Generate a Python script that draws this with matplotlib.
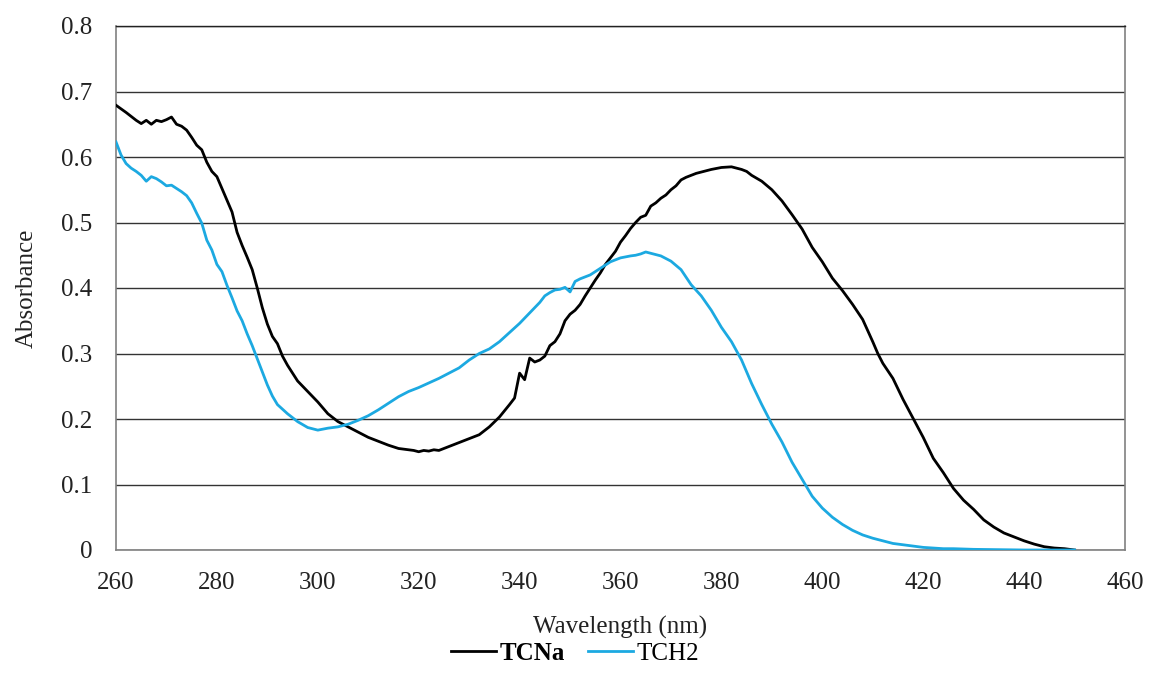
import matplotlib.pyplot as plt

plt.rcParams["font.family"] = ["Liberation Serif", "DejaVu Serif"]

# TCNa spectrum
tcna_wl = [
    260, 262, 264, 265, 266, 267, 268, 269, 270, 271, 272, 273, 274, 275, 276, 277,
    278, 279, 280, 281, 282, 283, 284, 285, 286, 287, 288, 289, 290, 291, 292, 293,
    294, 296, 298, 300, 302, 304, 306, 308, 310, 312, 314, 316, 318, 319, 320, 321,
    322, 323, 324, 326, 328, 330, 332, 334, 336, 338, 339, 340, 341, 342, 343, 344,
    345, 346, 347, 348, 349, 350, 351, 352, 353, 354, 355, 356, 357, 358, 359, 360,
    361, 362, 363, 364, 365, 366, 367, 368, 369, 370, 371, 372, 373, 374, 375, 376,
    378, 380, 382, 384, 385, 386, 388, 390, 392, 394, 395, 396, 398, 400, 402, 404,
    406, 408, 410, 411, 412, 414, 416, 418, 420, 422, 424, 426, 428, 430, 432, 434,
    436, 438, 440, 442, 444, 446, 448, 450,
]
tcna_abs = [
    0.679, 0.668, 0.656, 0.651, 0.656, 0.650, 0.656, 0.654, 0.657, 0.661, 0.650, 0.647, 0.641, 0.630, 0.618, 0.611,
    0.592, 0.578, 0.570, 0.552, 0.534, 0.516, 0.485, 0.465, 0.447, 0.428, 0.400, 0.370, 0.345, 0.326, 0.315, 0.296,
    0.282, 0.258, 0.242, 0.226, 0.208, 0.196, 0.188, 0.180, 0.172, 0.166, 0.160, 0.155, 0.153, 0.152, 0.150, 0.152,
    0.151, 0.153, 0.152, 0.158, 0.164, 0.170, 0.176, 0.188, 0.203, 0.222, 0.232, 0.270, 0.260, 0.293, 0.287, 0.290,
    0.296, 0.312, 0.318, 0.330, 0.350, 0.360, 0.366, 0.375, 0.388, 0.400, 0.412, 0.423, 0.436, 0.446, 0.456, 0.470,
    0.480, 0.491, 0.500, 0.508, 0.511, 0.525, 0.530, 0.537, 0.542, 0.550, 0.556, 0.565, 0.569, 0.572, 0.575, 0.577,
    0.581, 0.584, 0.585, 0.581, 0.578, 0.572, 0.563, 0.550, 0.533, 0.512, 0.501, 0.490, 0.462, 0.440, 0.415, 0.396,
    0.375, 0.352, 0.318, 0.300, 0.285, 0.262, 0.230, 0.201, 0.172, 0.140, 0.118, 0.094, 0.076, 0.062, 0.046, 0.035,
    0.026, 0.020, 0.014, 0.009, 0.005, 0.003, 0.002, 0.000,
]

# TCH2 spectrum
tch2_wl = [
    260, 261, 262, 263, 264, 265, 266, 267, 268, 269, 270, 271, 272, 273, 274, 275,
    276, 277, 278, 279, 280, 281, 282, 283, 284, 285, 286, 287, 288, 289, 290, 291,
    292, 294, 296, 298, 300, 302, 304, 306, 308, 310, 312, 314, 316, 318, 320, 322,
    324, 326, 328, 330, 332, 334, 336, 338, 340, 342, 344, 345, 346, 347, 348, 349,
    350, 351, 352, 354, 356, 358, 360, 362, 363, 364, 365, 366, 368, 370, 372, 374,
    376, 378, 380, 382, 384, 386, 388, 390, 392, 394, 396, 398, 400, 402, 404, 406,
    408, 410, 412, 414, 416, 418, 420, 422, 424, 426, 430, 440, 450,
]
tch2_abs = [
    0.623, 0.603, 0.590, 0.583, 0.578, 0.572, 0.563, 0.570, 0.567, 0.562, 0.556, 0.557, 0.552, 0.547, 0.541, 0.530,
    0.514, 0.499, 0.473, 0.458, 0.436, 0.425, 0.404, 0.385, 0.365, 0.350, 0.330, 0.312, 0.292, 0.272, 0.252, 0.235,
    0.222, 0.208, 0.196, 0.187, 0.183, 0.186, 0.188, 0.192, 0.198, 0.205, 0.214, 0.224, 0.234, 0.242, 0.248, 0.255,
    0.262, 0.270, 0.278, 0.290, 0.300, 0.307, 0.318, 0.332, 0.346, 0.362, 0.378, 0.388, 0.393, 0.397, 0.398, 0.401,
    0.394, 0.410, 0.414, 0.420, 0.430, 0.440, 0.446, 0.449, 0.450, 0.452, 0.455, 0.453, 0.449, 0.441, 0.428, 0.405,
    0.388, 0.366, 0.340, 0.318, 0.290, 0.254, 0.222, 0.192, 0.165, 0.134, 0.108, 0.082, 0.064, 0.050, 0.039, 0.030,
    0.023, 0.018, 0.014, 0.010, 0.008, 0.006, 0.004, 0.003, 0.002, 0.002, 0.001, 0.000, 0.000,
]

x_ticks = [260, 280, 300, 320, 340, 360, 380, 400, 420, 440, 460]
y_ticks = [0, 0.1, 0.2, 0.3, 0.4, 0.5, 0.6, 0.7, 0.8]
y_tick_labels = ["0", "0.1", "0.2", "0.3", "0.4", "0.5", "0.6", "0.7", "0.8"]

fig = plt.figure(figsize=(11.5, 6.93), dpi=100)
ax = fig.add_axes([116 / 1150, 1 - 550 / 693, (1125 - 116) / 1150, (550 - 26) / 693])

ax.plot(tcna_wl, tcna_abs, color="black", linewidth=2.0, label="TCNa", zorder=3)
ax.plot(tch2_wl, tch2_abs, color="#1ca9e1", linewidth=2.0, label="TCH2", zorder=3)

ax.set_xlim(260, 460)
ax.set_ylim(0, 0.8)
ax.set_xticks(x_ticks)
ax.set_yticks(y_ticks)
ax.set_yticklabels(y_tick_labels)
ax.tick_params(axis="both", length=0, labelsize=18, colors="#222222")
ax.tick_params(axis="y", pad=17)
ax.tick_params(axis="x", pad=15.5)
ax.grid(axis="y", color="#333333", linewidth=1.0)
ax.set_axisbelow(True)
for side in ["left", "bottom", "right"]:
    ax.spines[side].set_color("#808080")
    ax.spines[side].set_linewidth(1.2)
ax.spines["top"].set_color("#222222")
ax.spines["top"].set_linewidth(1.0)

ax.set_xlabel("Wavelength (nm)", fontsize=18, labelpad=16, color="#222222")
ax.set_ylabel("Absorbance", fontsize=18, labelpad=17, color="#222222")

leg = fig.legend(
    loc="center",
    bbox_to_anchor=(0.5, 1 - 653 / 693),
    ncol=2,
    frameon=False,
    fontsize=18,
    handlelength=1.8,
    handletextpad=0.15,
    columnspacing=0.9,
)
leg.get_texts()[0].set_fontweight("bold")

fig.savefig("out.png", dpi=100)
